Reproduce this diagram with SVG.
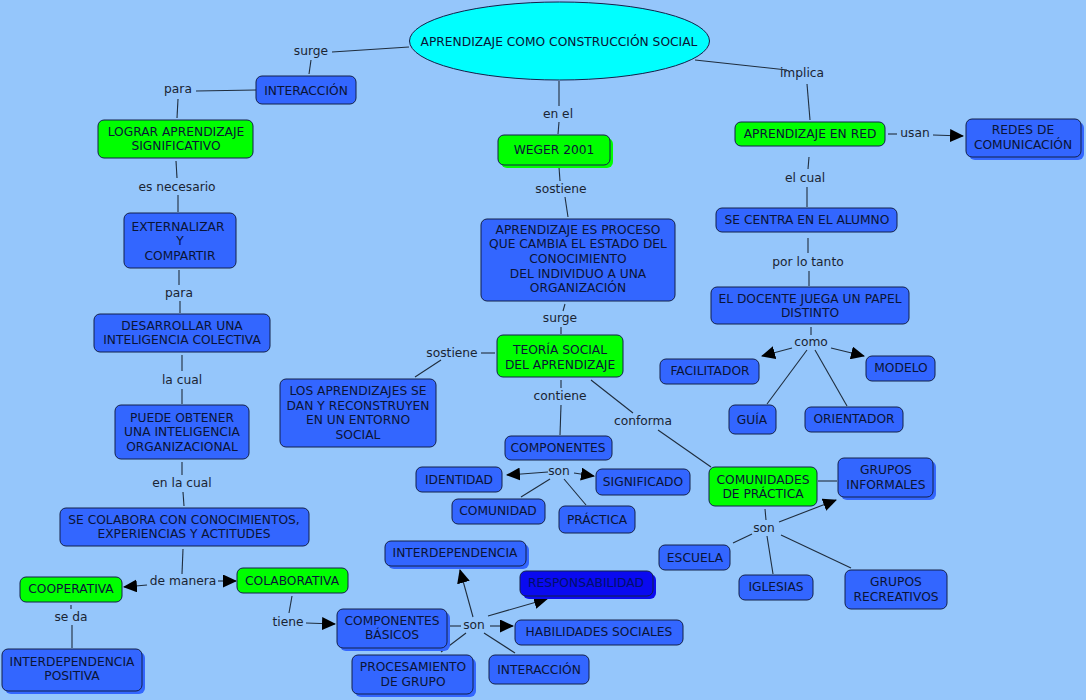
<svg xmlns="http://www.w3.org/2000/svg" width="1086" height="700" viewBox="0 0 1086 700">
<defs>
<marker id="arr" markerUnits="userSpaceOnUse" markerWidth="15" markerHeight="13" refX="13" refY="6.5" orient="auto">
<path d="M0,0 L14,6.5 L0,13 Z" fill="#000"/>
</marker>
</defs>
<style>
.bg{fill:#95C6FB}
.b{fill:#3366FF;stroke:#13204a;stroke-width:1}
.g{fill:#00FF00;stroke:#13204a;stroke-width:1}
.r{fill:#0A0AF0;stroke:#13204a;stroke-width:1}
.sb{fill:#3366FF}
.sg{fill:#00FF00}
.sr{fill:#0A0AF0}
.e{fill:#00FFFF;stroke:#13204a;stroke-width:1}
text{font-family:"DejaVu Sans","Liberation Sans",sans-serif;font-size:12.25px;text-anchor:middle;dominant-baseline:central}
.t{fill:#0a1436}
.tr{fill:#00106a}
.l{fill:#1a2433}
.c line{stroke:#1f2d3d;stroke-width:1.1}
.c .a{marker-end:url(#arr)}
</style>
<rect class="bg" x="0" y="0" width="1086" height="700"/>

<g class="c" id="connectors">
<line x1="409" y1="47" x2="332" y2="52"/>
<line x1="311" y1="60" x2="309" y2="74"/>
<line x1="256" y1="90" x2="196" y2="91"/>
<line x1="178" y1="99" x2="177" y2="118"/>
<line x1="176" y1="161" x2="177" y2="178"/>
<line x1="178" y1="195" x2="178" y2="212"/>
<line x1="179" y1="270" x2="179" y2="285"/>
<line x1="180" y1="301" x2="180" y2="313"/>
<line x1="182" y1="355" x2="182" y2="371"/>
<line x1="182" y1="389" x2="182" y2="404"/>
<line x1="182" y1="462" x2="182" y2="475"/>
<line x1="183" y1="492" x2="184" y2="506"/>
<line x1="183" y1="549" x2="182" y2="574"/>
<line class="a" x1="147" y1="585" x2="124" y2="587"/>
<line class="a" x1="218" y1="581" x2="236" y2="581"/>
<line x1="71" y1="605" x2="71" y2="609"/>
<line x1="72" y1="625" x2="72" y2="648"/>
<line x1="292" y1="596" x2="289" y2="613"/>
<line class="a" x1="306" y1="623" x2="335" y2="624"/>
<line x1="450" y1="626" x2="461" y2="626"/>
<line class="a" x1="473" y1="617" x2="460" y2="570"/>
<line class="a" x1="488" y1="616" x2="547" y2="599"/>
<line class="a" x1="490" y1="626" x2="513" y2="626"/>
<line x1="484" y1="633" x2="515" y2="653"/>
<line x1="466" y1="633" x2="441" y2="652"/>

<line x1="559" y1="81" x2="559" y2="106"/>
<line x1="559" y1="122" x2="558" y2="134"/>
<line x1="559" y1="167" x2="560" y2="181"/>
<line x1="565" y1="197" x2="568" y2="217"/>
<line x1="565" y1="304" x2="563" y2="311"/>
<line x1="561" y1="327" x2="561" y2="334"/>
<line x1="495" y1="353" x2="481" y2="353"/>
<line x1="441" y1="360" x2="415" y2="377"/>
<line x1="561" y1="380" x2="561" y2="388"/>
<line x1="561" y1="405" x2="560" y2="435"/>
<line x1="591" y1="380" x2="633" y2="413"/>
<line x1="658" y1="430" x2="711" y2="467"/>
<line class="a" x1="548" y1="472" x2="507" y2="475"/>
<line class="a" x1="574" y1="473" x2="594" y2="476"/>
<line x1="550" y1="479" x2="521" y2="497"/>
<line x1="564" y1="479" x2="586" y2="505"/>

<line x1="695" y1="60" x2="787" y2="70"/>
<line x1="807" y1="84" x2="810" y2="120"/>
<line x1="888" y1="134" x2="897" y2="134"/>
<line class="a" x1="933" y1="135" x2="963" y2="136"/>
<line x1="809" y1="157" x2="808" y2="169"/>
<line x1="807" y1="187" x2="807" y2="207"/>
<line x1="808" y1="238" x2="808" y2="253"/>
<line x1="809" y1="271" x2="809" y2="286"/>
<line x1="811" y1="327" x2="811" y2="335"/>
<line class="a" x1="792" y1="348" x2="762" y2="356"/>
<line class="a" x1="831" y1="348" x2="864" y2="356"/>
<line x1="807" y1="350" x2="767" y2="404"/>
<line x1="815" y1="350" x2="847" y2="406"/>
<line x1="818" y1="481" x2="837" y2="481"/>
<line x1="765" y1="509" x2="766" y2="520"/>
<line class="a" x1="779" y1="522" x2="836" y2="500"/>
<line x1="752" y1="534" x2="733" y2="543"/>
<line x1="767" y1="536" x2="773" y2="574"/>
<line x1="781" y1="535" x2="851" y2="568"/>
</g>

<g id="labels">
<text class="l" x="311" y="51">surge</text>
<text class="l" x="178" y="89">para</text>
<text class="l" x="177" y="187">es necesario</text>
<text class="l" x="179" y="293">para</text>
<text class="l" x="182" y="380">la cual</text>
<text class="l" x="182" y="483">en la cual</text>
<text class="l" x="183" y="581">de manera</text>
<text class="l" x="71" y="617">se da</text>
<text class="l" x="288" y="622">tiene</text>
<text class="l" x="474" y="625">son</text>
<text class="l" x="558" y="114">en el</text>
<text class="l" x="561" y="189">sostiene</text>
<text class="l" x="560" y="318">surge</text>
<text class="l" x="452" y="353">sostiene</text>
<text class="l" x="560" y="396">contiene</text>
<text class="l" x="643" y="421">conforma</text>
<text class="l" x="559" y="471">son</text>
<text class="l" x="802" y="73">implica</text>
<text class="l" x="915" y="133">usan</text>
<text class="l" x="805" y="178">el cual</text>
<text class="l" x="808" y="262">por lo tanto</text>
<text class="l" x="811" y="342">como</text>
<text class="l" x="764" y="528">son</text>
</g>

<g id="n-main"><ellipse class="e" cx="559.5" cy="41" rx="150" ry="39"/><text class="t" x="559" y="42">APRENDIZAJE COMO CONSTRUCCIÓN SOCIAL</text></g>
<g id="n-interaccion1"><rect class="b" x="256" y="76" width="100" height="28" rx="6"/><text class="t" x="306" y="91">INTERACCIÓN</text></g>
<g id="n-lograr"><rect class="g" x="98" y="120" width="155" height="38" rx="6"/><text class="t" x="176" y="132">LOGRAR APRENDIZAJE</text><text class="t" x="176" y="146">SIGNIFICATIVO</text></g>
<g id="n-externalizar"><rect class="b" x="124" y="213" width="112" height="55" rx="6"/><text class="t" x="178" y="227">EXTERNALIZAR</text><text class="t" x="180" y="241">Y</text><text class="t" x="180" y="256">COMPARTIR</text></g>
<g id="n-desarrollar"><rect class="b" x="94" y="314" width="176" height="38" rx="6"/><text class="t" x="182" y="326">DESARROLLAR UNA</text><text class="t" x="182" y="340">INTELIGENCIA COLECTIVA</text></g>
<g id="n-puede"><rect class="b" x="115" y="405" width="134" height="54" rx="6"/><text class="t" x="182" y="418">PUEDE OBTENER</text><text class="t" x="182" y="432">UNA INTELIGENCIA</text><text class="t" x="182" y="447">ORGANIZACIONAL</text></g>
<g id="n-secolabora"><rect class="b" x="60" y="508" width="249" height="38" rx="6"/><text class="t" x="184" y="520">SE COLABORA CON CONOCIMIENTOS,</text><text class="t" x="184" y="534">EXPERIENCIAS Y ACTITUDES</text></g>
<g id="n-cooperativa"><rect class="g" x="20" y="577" width="102" height="25" rx="6"/><text class="t" x="71" y="589">COOPERATIVA</text></g>
<g id="n-colaborativa"><rect class="g" x="237" y="568" width="111" height="25" rx="6"/><text class="t" x="292" y="581">COLABORATIVA</text></g>
<g id="n-interpos"><rect class="sb" x="5" y="652" width="140" height="42" rx="6"/><rect class="b" x="2" y="649" width="140" height="42" rx="6"/><text class="t" x="72" y="662">INTERDEPENDENCIA</text><text class="t" x="72" y="676">POSITIVA</text></g>
<g id="n-compbasicos"><rect class="sb" x="340" y="612" width="110" height="39" rx="6"/><rect class="b" x="337" y="609" width="110" height="39" rx="6"/><text class="t" x="392" y="621">COMPONENTES</text><text class="t" x="392" y="635">BÁSICOS</text></g>
<g id="n-interdep"><rect class="sb" x="388" y="544" width="141" height="25" rx="6"/><rect class="b" x="385" y="541" width="141" height="25" rx="6"/><text class="t" x="455" y="553">INTERDEPENDENCIA</text></g>
<g id="n-respons"><rect class="sr" x="523" y="574" width="133" height="25" rx="6"/><rect class="r" x="520" y="571" width="133" height="25" rx="6"/><text class="tr" x="586" y="583">RESPONSABILIDAD</text></g>
<g id="n-habilidades"><rect class="b" x="515" y="620" width="168" height="25" rx="6"/><text class="t" x="599" y="632">HABILIDADES SOCIALES</text></g>
<g id="n-interaccion2"><rect class="b" x="489" y="655" width="100" height="29" rx="6"/><text class="t" x="539" y="670">INTERACCIÓN</text></g>
<g id="n-procesamiento"><rect class="sb" x="355" y="658" width="121" height="39" rx="6"/><rect class="b" x="352" y="655" width="121" height="39" rx="6"/><text class="t" x="413" y="667">PROCESAMIENTO</text><text class="t" x="413" y="682">DE GRUPO</text></g>

<g id="n-weger"><rect class="sg" x="501" y="138" width="112" height="30" rx="6"/><rect class="g" x="498" y="135" width="112" height="30" rx="6"/><text class="t" x="554" y="150">WEGER 2001</text></g>
<g id="n-proceso"><rect class="b" x="481" y="219" width="194" height="82" rx="6"/><text class="t" x="578" y="230">APRENDIZAJE ES PROCESO</text><text class="t" x="578" y="244">QUE CAMBIA EL ESTADO DEL</text><text class="t" x="578" y="259">CONOCIMIENTO</text><text class="t" x="578" y="274">DEL INDIVIDUO A UNA</text><text class="t" x="578" y="288">ORGANIZACIÓN</text></g>
<g id="n-teoria"><rect class="g" x="497" y="335" width="126" height="42" rx="6"/><text class="t" x="560" y="350">TEORÍA SOCIAL</text><text class="t" x="560" y="365">DEL APRENDIZAJE</text></g>
<g id="n-losaprendizajes"><rect class="b" x="280" y="379" width="156" height="68" rx="6"/><text class="t" x="358" y="391">LOS APRENDIZAJES SE</text><text class="t" x="358" y="406">DAN Y RECONSTRUYEN</text><text class="t" x="358" y="420">EN UN ENTORNO</text><text class="t" x="358" y="435">SOCIAL</text></g>
<g id="n-componentes"><rect class="b" x="505" y="436" width="107" height="24" rx="6"/><text class="t" x="558" y="448">COMPONENTES</text></g>
<g id="n-identidad"><rect class="b" x="416" y="467" width="86" height="25" rx="6"/><text class="t" x="459" y="480">IDENTIDAD</text></g>
<g id="n-significado"><rect class="b" x="596" y="469" width="94" height="26" rx="6"/><text class="t" x="643" y="482">SIGNIFICADO</text></g>
<g id="n-comunidad"><rect class="b" x="452" y="499" width="93" height="25" rx="6"/><text class="t" x="498" y="511">COMUNIDAD</text></g>
<g id="n-practica"><rect class="b" x="559" y="506" width="76" height="27" rx="6"/><text class="t" x="597" y="520">PRÁCTICA</text></g>

<g id="n-red"><rect class="g" x="735" y="122" width="150" height="24" rx="6"/><text class="t" x="810" y="134">APRENDIZAJE EN RED</text></g>
<g id="n-redes"><rect class="sb" x="969" y="122" width="115" height="38" rx="6"/><rect class="b" x="966" y="119" width="115" height="38" rx="6"/><text class="t" x="1023" y="130">REDES DE</text><text class="t" x="1023" y="145">COMUNICACIÓN</text></g>
<g id="n-centra"><rect class="b" x="716" y="208" width="181" height="24" rx="6"/><text class="t" x="807" y="220">SE CENTRA EN EL ALUMNO</text></g>
<g id="n-docente"><rect class="b" x="711" y="287" width="198" height="37" rx="6"/><text class="t" x="810" y="299">EL DOCENTE JUEGA UN PAPEL</text><text class="t" x="810" y="313">DISTINTO</text></g>
<g id="n-facilitador"><rect class="b" x="660" y="359" width="99" height="25" rx="6"/><text class="t" x="710" y="371">FACILITADOR</text></g>
<g id="n-modelo"><rect class="b" x="866" y="356" width="69" height="25" rx="6"/><text class="t" x="901" y="368">MODELO</text></g>
<g id="n-guia"><rect class="b" x="729" y="405" width="47" height="29" rx="6"/><text class="t" x="752" y="420">GUÍA</text></g>
<g id="n-orientador"><rect class="b" x="805" y="407" width="98" height="25" rx="6"/><text class="t" x="854" y="419">ORIENTADOR</text></g>
<g id="n-comunidades"><rect class="g" x="709" y="467" width="108" height="39" rx="6"/><text class="t" x="763" y="480">COMUNIDADES</text><text class="t" x="763" y="494">DE PRÁCTICA</text></g>
<g id="n-informales"><rect class="sb" x="841" y="461" width="95" height="39" rx="6"/><rect class="b" x="838" y="458" width="95" height="39" rx="6"/><text class="t" x="886" y="470">GRUPOS</text><text class="t" x="886" y="485">INFORMALES</text></g>
<g id="n-escuela"><rect class="b" x="659" y="545" width="71" height="25" rx="6"/><text class="t" x="695" y="558">ESCUELA</text></g>
<g id="n-iglesias"><rect class="b" x="739" y="575" width="74" height="25" rx="6"/><text class="t" x="776" y="587">IGLESIAS</text></g>
<g id="n-recreativos"><rect class="b" x="845" y="570" width="102" height="39" rx="6"/><text class="t" x="896" y="582">GRUPOS</text><text class="t" x="896" y="597">RECREATIVOS</text></g>
</svg>
